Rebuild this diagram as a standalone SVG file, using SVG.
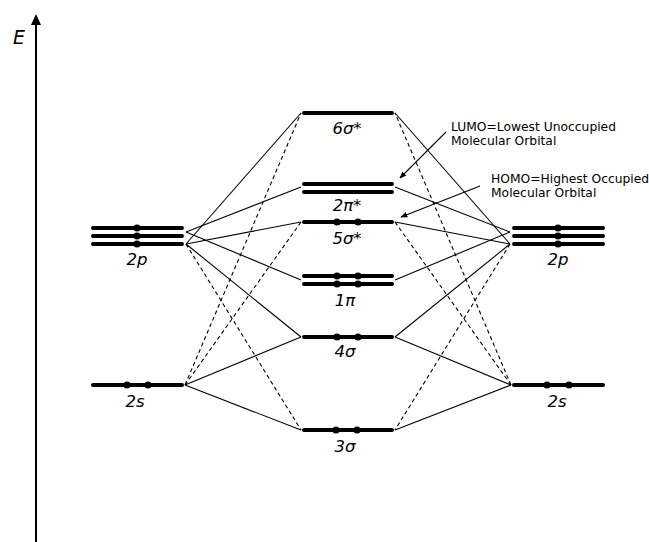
<svg xmlns="http://www.w3.org/2000/svg" width="649" height="542" viewBox="0 0 649 542">
<style>
.lvl{stroke:#000;stroke-width:4;stroke-linecap:round;fill:none}
.c{stroke:#000;stroke-width:1.1;fill:none}
.d{stroke:#000;stroke-width:1.1;fill:none;stroke-dasharray:4,3}
.lab{font-family:"DejaVu Sans",sans-serif;font-style:italic;font-size:16.5px;text-anchor:middle;fill:#000}
.note{font-family:"DejaVu Sans",sans-serif;font-size:12.3px;fill:#000}
</style>
<defs>
<marker id="ah" viewBox="0 0 10 10" refX="9" refY="5" markerWidth="7" markerHeight="7" orient="auto" markerUnits="userSpaceOnUse">
<path d="M0,1 L10,5 L0,9 z" fill="#000"/>
</marker>
</defs>
<rect width="649" height="542" fill="#fff"/>
<g id="axis">
<line x1="36" y1="542" x2="36" y2="22" stroke="#000" stroke-width="2"/>
<path d="M36,14 L41,25 L31,25 z" fill="#000"/>
<text x="19" y="44" font-family="DejaVu Sans, sans-serif" font-style="italic" font-size="19" text-anchor="middle">E</text>
</g>
<g id="connectors">
<line class="c" x1="186" y1="232" x2="301" y2="187"/>
<line class="c" x1="186" y1="232" x2="301" y2="280"/>
<line class="c" x1="186" y1="244" x2="301" y2="113"/>
<line class="c" x1="186" y1="244" x2="301" y2="222"/>
<line class="c" x1="186" y1="244" x2="301" y2="337"/>
<line class="d" x1="186" y1="244" x2="301" y2="430"/>
<line class="d" x1="185" y1="385" x2="301" y2="113"/>
<line class="d" x1="185" y1="385" x2="301" y2="222"/>
<line class="c" x1="185" y1="385" x2="301" y2="337"/>
<line class="c" x1="185" y1="385" x2="301" y2="430"/>
<line class="c" x1="510" y1="232" x2="395" y2="187"/>
<line class="c" x1="510" y1="232" x2="395" y2="280"/>
<line class="c" x1="510" y1="244" x2="395" y2="113"/>
<line class="c" x1="510" y1="244" x2="395" y2="222"/>
<line class="c" x1="510" y1="244" x2="395" y2="337"/>
<line class="d" x1="510" y1="244" x2="395" y2="430"/>
<line class="d" x1="511" y1="385" x2="395" y2="113"/>
<line class="d" x1="511" y1="385" x2="395" y2="222"/>
<line class="c" x1="511" y1="385" x2="395" y2="337"/>
<line class="c" x1="511" y1="385" x2="395" y2="430"/>
<line class="c" x1="446" y1="132" x2="400" y2="178" marker-end="url(#ah)"/>
<line class="c" x1="480" y1="186" x2="401" y2="217" marker-end="url(#ah)"/>
</g>
<g id="left2p">
<line class="lvl" x1="93" y1="228" x2="182" y2="228"/>
<line class="lvl" x1="93" y1="236" x2="182" y2="236"/>
<line class="lvl" x1="93" y1="244" x2="182" y2="244"/>
<circle cx="137" cy="228" r="3.6"/><circle cx="137" cy="236" r="3.6"/><circle cx="137" cy="244" r="3.6"/>
<text class="lab" x="137" y="265">2p</text>
</g>
<g id="left2s">
<line class="lvl" x1="93" y1="385" x2="182" y2="385"/>
<circle cx="127" cy="385" r="3.6"/><circle cx="148" cy="385" r="3.6"/>
<text class="lab" x="135" y="407">2s</text>
</g>
<g id="s6">
<line class="lvl" x1="304" y1="113" x2="392" y2="113"/>
<text class="lab" x="347" y="134">6σ*</text>
</g>
<g id="pi2">
<line class="lvl" x1="304" y1="184" x2="392" y2="184"/>
<line class="lvl" x1="304" y1="192" x2="392" y2="192"/>
<text class="lab" x="347" y="211">2π*</text>
</g>
<g id="s5">
<line class="lvl" x1="304" y1="222" x2="392" y2="222"/>
<circle cx="337" cy="222" r="3.6"/><circle cx="358" cy="222" r="3.6"/>
<text class="lab" x="347" y="244">5σ*</text>
</g>
<g id="pi1">
<line class="lvl" x1="304" y1="276" x2="392" y2="276"/>
<line class="lvl" x1="304" y1="284" x2="392" y2="284"/>
<circle cx="337" cy="276" r="3.6"/><circle cx="358" cy="276" r="3.6"/>
<circle cx="337" cy="284" r="3.6"/><circle cx="358" cy="284" r="3.6"/>
<text class="lab" x="345" y="306">1π</text>
</g>
<g id="s4">
<line class="lvl" x1="304" y1="337" x2="392" y2="337"/>
<circle cx="337" cy="337" r="3.6"/><circle cx="358" cy="337" r="3.6"/>
<text class="lab" x="345" y="357">4σ</text>
</g>
<g id="s3">
<line class="lvl" x1="304" y1="430" x2="392" y2="430"/>
<circle cx="336" cy="430" r="3.6"/><circle cx="357" cy="430" r="3.6"/>
<text class="lab" x="345" y="452">3σ</text>
</g>
<g id="right2p">
<line class="lvl" x1="514" y1="228" x2="603" y2="228"/>
<line class="lvl" x1="514" y1="236" x2="603" y2="236"/>
<line class="lvl" x1="514" y1="244" x2="603" y2="244"/>
<circle cx="558" cy="228" r="3.6"/><circle cx="558" cy="236" r="3.6"/><circle cx="558" cy="244" r="3.6"/>
<text class="lab" x="558" y="265">2p</text>
</g>
<g id="right2s">
<line class="lvl" x1="514" y1="385" x2="603" y2="385"/>
<circle cx="547" cy="385" r="3.6"/><circle cx="569" cy="385" r="3.6"/>
<text class="lab" x="557" y="407">2s</text>
</g>
<g id="lumo">
<text class="note" x="451" y="131">LUMO=Lowest Unoccupied</text>
<text class="note" x="451" y="145">Molecular Orbital</text>
</g>
<g id="homo">
<text class="note" x="491" y="183">HOMO=Highest Occupied</text>
<text class="note" x="491" y="197">Molecular Orbital</text>
</g>
</svg>
